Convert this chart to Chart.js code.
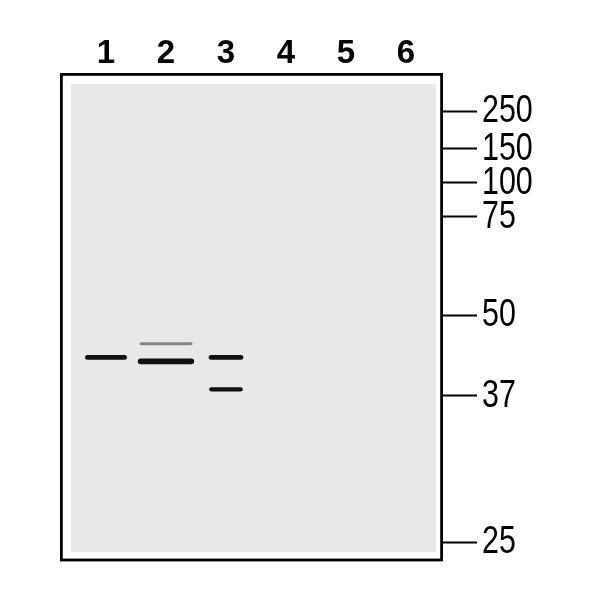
<!DOCTYPE html>
<html lang="en">
<head>
  <meta charset="UTF-8" />
  <title>Western blot</title>
  <script src="https://cdn.jsdelivr.net/npm/chart.js"></script>
  <style>
    html, body { margin: 0; padding: 0; background: #fff; }
    #wrap { width: 604px; height: 604px; }
  </style>
</head>
<body>
  <div id="wrap"><canvas id="blot"></canvas></div>
  <script>
    // lanes and molecular weight markers (position = % of blot height from top)
    const laneNames = ['1', '2', '3', '4', '5', '6'];
    const markerLabels = ['250', '150', '100', '75', '50', '37', '25'];
    const markerPos = [7.6, 15.3, 22.3, 29.3, 49.5, 66.1, 96.2];

    // bands per lane: [top, bottom] in the same units
    const lane1Bands = [[57.7, 58.7]];
    const lane2Bands = [[55.1, 55.7], [58.4, 59.6]];
    const lane3Bands = [[57.7, 58.7], [64.3, 65.2]];
    const lane2Faint = [true, false];

    // styling
    const laneBandWidth = [0.70, 0.94, 0.58];
    const dark = '#111111';
    const faint = '#858585';

    function bandSet(laneIdx, range, color, width) {
      const data = laneNames.map(() => null);
      data[laneIdx] = range;
      return {
        data: data,
        backgroundColor: color,
        borderRadius: 3,
        borderSkipped: false,
        grouped: false,
        barPercentage: width,
        categoryPercentage: 1
      };
    }

    const datasets = [];
    lane1Bands.forEach(b => datasets.push(bandSet(0, b, dark, laneBandWidth[0])));
    lane2Bands.forEach((b, i) => datasets.push(bandSet(1, b, lane2Faint[i] ? faint : dark, laneBandWidth[1] - (lane2Faint[i] ? 0.06 : 0))));
    lane3Bands.forEach((b, i) => datasets.push(bandSet(2, b, dark, laneBandWidth[2] + (i === 1 ? -0.02 : 0))));

    // gray membrane, black frame, and the narrow marker labels
    const blotFrame = {
      id: 'blotFrame',
      beforeDraw(chart) {
        const { ctx, chartArea: a } = chart;
        ctx.save();
        ctx.fillStyle = '#fff';
        ctx.fillRect(0, 0, chart.width, chart.height);
        ctx.fillStyle = '#e8e8e8';
        ctx.fillRect(a.left - 5, a.top + 10, a.right - a.left + 5, a.bottom - a.top - 19);
        ctx.restore();
      },
      afterDraw(chart) {
        const { ctx, chartArea: a } = chart;
        const y = chart.scales.y;
        ctx.save();
        ctx.fillStyle = '#fff';
        ctx.fillRect(a.right, a.top, 5, a.bottom - a.top);
        ctx.strokeStyle = '#000';
        ctx.lineWidth = 2.8;
        ctx.strokeRect(a.left - 14.6, a.top + 0.4, 380.2, a.bottom - a.top - 1.4);

        ctx.fillStyle = '#000';
        ctx.font = '39px "Liberation Sans", Arial, sans-serif';
        ctx.textAlign = 'left';
        ctx.textBaseline = 'alphabetic';
        markerLabels.forEach((lab, i) => {
          const py = y.getPixelForValue(markerPos[i]);
          ctx.save();
          ctx.translate(a.right + 46, py + 11);
          ctx.scale(0.78, 1);
          ctx.fillText(lab, 0, 0);
          ctx.restore();
        });
        ctx.restore();
      }
    };

    new Chart(document.getElementById('blot'), {
      type: 'bar',
      data: { labels: laneNames, datasets: datasets },
      plugins: [blotFrame],
      options: {
        responsive: true,
        maintainAspectRatio: false,
        animation: false,
        layout: { padding: { left: 76, right: 0, top: 0, bottom: 43 } },
        plugins: { legend: { display: false }, tooltip: { enabled: false } },
        scales: {
          x: {
            position: 'top',
            afterFit(scale) { scale.height = 74; },
            grid: { display: false, drawTicks: false },
            border: { display: false },
            ticks: {
              padding: 0,
              color: '#000',
              font: { family: '"Liberation Sans", Arial, sans-serif', size: 33, weight: 'bold' }
            }
          },
          y: {
            position: 'right',
            reverse: true,
            min: 0,
            max: 100,
            afterFit(scale) { scale.width = 168; },
            afterBuildTicks(scale) {
              scale.ticks = markerPos.map(v => ({ value: v }));
            },
            grid: {
              drawOnChartArea: false,
              drawTicks: true,
              tickLength: 41,
              tickWidth: 2,
              tickColor: '#000'
            },
            border: { display: false },
            ticks: { display: false, autoSkip: false }
          }
        }
      }
    });
  </script>
</body>
</html>
